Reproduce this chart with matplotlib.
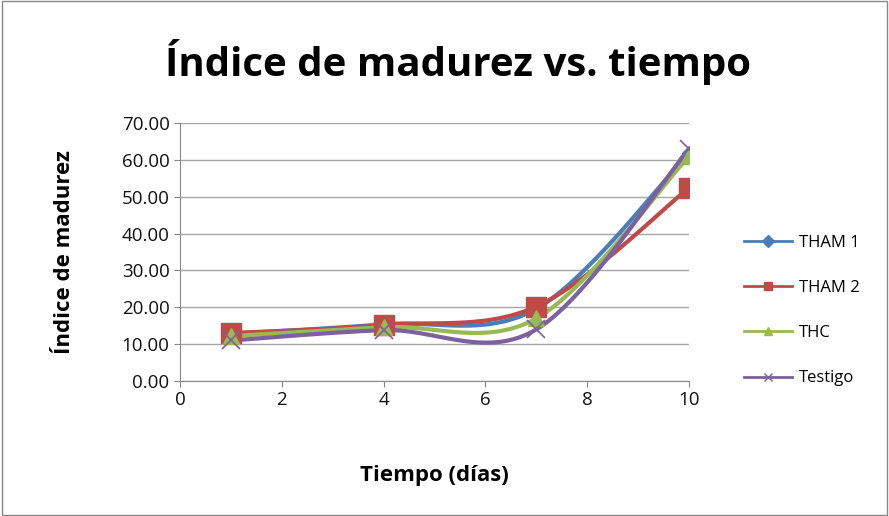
import numpy as np
import matplotlib.pyplot as plt
from matplotlib.lines import Line2D

# data
dias = [1, 4, 7, 10]
tham1 = [12.8, 15.4, 19.6, 61.8]
tham2 = [13.0, 15.2, 20.2, 52.4]
thc = [12.2, 14.6, 17.0, 61.0]
testigo = [11.0, 13.8, 14.0, 63.0]

series_names = ["THAM 1", "THAM 2", "THC", "Testigo"]
series_vals = [tham1, tham2, thc, testigo]
colors = ["#4A7EBB", "#BE4B48", "#98B954", "#7D60A0"]
markers = ["D", "s", "^", "x"]
msizes = [7, 14, 12, 13]

FONT = ["Open Sans", "DejaVu Sans"]


def smooth(xs, ys, n=40):
    # Excel-style smoothed line: cubic Bezier with Catmull-Rom control points
    xs = np.asarray(xs, float)
    ys = np.asarray(ys, float)
    px = np.concatenate([[xs[0]], xs, [xs[-1]]])
    py = np.concatenate([[ys[0]], ys, [ys[-1]]])
    outx, outy = [], []
    t = np.linspace(0, 1, n)
    for i in range(1, len(px) - 2):
        p0 = np.array([px[i], py[i]])
        p3 = np.array([px[i + 1], py[i + 1]])
        c1 = p0 + (np.array([px[i + 1], py[i + 1]]) - np.array([px[i - 1], py[i - 1]])) / 6
        c2 = p3 - (np.array([px[i + 2], py[i + 2]]) - np.array([px[i], py[i]])) / 6
        b = ((1 - t) ** 3)[:, None] * p0 + (3 * (1 - t) ** 2 * t)[:, None] * c1 \
            + (3 * (1 - t) * t ** 2)[:, None] * c2 + (t ** 3)[:, None] * p3
        outx.extend(b[:, 0])
        outy.extend(b[:, 1])
    return outx, outy


fig = plt.figure(figsize=(8.89, 5.16), dpi=100)
fig.patches.append(plt.Rectangle((0.002, 0.002), 0.996, 0.996, transform=fig.transFigure,
                                 fill=False, edgecolor="#888888", linewidth=1))
ax = fig.add_axes([0.2025, 0.2616, 0.5726, 0.5])

for name, vals, c, m, ms in zip(series_names, series_vals, colors, markers, msizes):
    sx, sy = smooth(dias, vals)
    ax.plot(sx, sy, color=c, linewidth=3, solid_capstyle="round", zorder=3)
    ax.plot(dias, vals, linestyle="none", marker=m, markersize=ms, color=c,
            markeredgewidth=1 if m != "x" else 1.2, zorder=4)

ax.set_xlim(0, 10)
ax.set_ylim(0, 70)
ax.set_xticks(range(0, 11, 2))
ax.set_yticks(range(0, 71, 10))
ax.set_yticklabels([f"{v:.2f}" for v in range(0, 71, 10)])
ax.yaxis.grid(True, color="#A6A6A6", linewidth=1)
ax.set_axisbelow(True)
for s in ["top", "right"]:
    ax.spines[s].set_visible(False)
for s in ["left", "bottom"]:
    ax.spines[s].set_color("#888888")
ax.tick_params(axis="both", colors="#888888", labelcolor="#111111", labelsize=13.5, length=4)
for lab in ax.get_xticklabels() + ax.get_yticklabels():
    lab.set_family(FONT)

ax.set_xlabel("Tiempo (días)", fontsize=16, fontweight="bold", family=FONT, labelpad=40)
ax.set_ylabel("Índice de madurez", fontsize=16, fontweight="bold", family=FONT, labelpad=34)
fig.text(0.515, 0.88, "Índice de madurez vs. tiempo", ha="center", va="center",
         fontsize=29, fontweight="bold", family=FONT)

handles = [Line2D([0], [0], color=c, marker=m, markersize=6, linewidth=2)
           for c, m in zip(colors, markers)]
fig.legend(handles, series_names, loc="center left", bbox_to_anchor=(0.82, 0.398),
           frameon=False, prop={"family": FONT, "size": 12}, labelspacing=1.75,
           handlelength=2.9, handletextpad=0.4)

fig.savefig("out.png", dpi=100)
